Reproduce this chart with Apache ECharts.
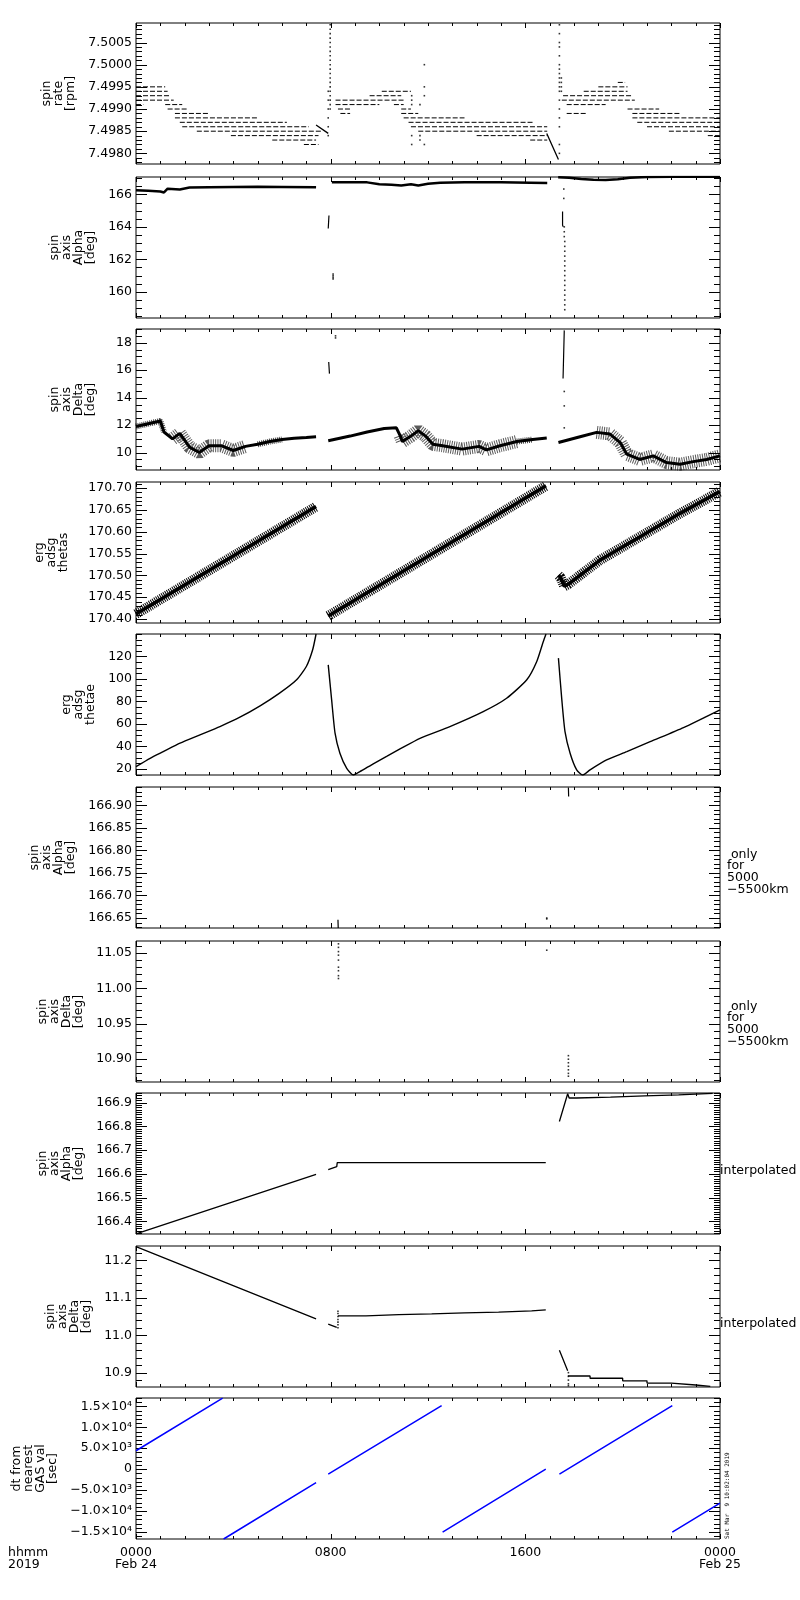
<!DOCTYPE html>
<html>
<head>
<meta charset="utf-8">
<title>spin axis summary 2019 Feb 24</title>
<script src="https://cdn.jsdelivr.net/npm/echarts@6/dist/echarts.min.js"></script>
<style>
html, body { margin: 0; padding: 0; background: #fff; }
#main { width: 800px; height: 1600px; }
</style>
</head>
<body>
<div id="main"></div>
<script>
// time axis: hours from 0000 Feb 24
var hourTicks = [0, 8, 16, 24];
var hourLabels = ['0000\nFeb 24', '0800', '1600', '0000\nFeb 25'];

// ---- panel 1 : spin rate [rpm]  (quantised levels: [value, from, to])
var rateTicks = [7.4980, 7.4985, 7.4990, 7.4995, 7.5000, 7.5005];
var rateLevels = [
  [7.4995, 0, 1.2], [7.4994, 0, 1.3], [7.4993, 0, 1.4], [7.4992, 0, 1.55],
  [7.4991, 0, 0.3], [7.4991, 1.2, 1.9], [7.4990, 1.3, 2.1], [7.4989, 1.6, 3.0],
  [7.4988, 1.6, 5.0], [7.4987, 1.8, 6.2], [7.4986, 1.9, 7.1], [7.4985, 2.5, 7.6],
  [7.4984, 3.9, 7.5], [7.4983, 5.6, 7.4], [7.4982, 6.9, 7.5],
  [7.4994, 10.1, 11.3], [7.4993, 9.6, 10.9], [7.4992, 8.2, 11.0],
  [7.4991, 8.2, 10.0], [7.4991, 10.6, 11.0], [7.4990, 8.3, 8.8], [7.4990, 10.9, 11.3],
  [7.4989, 8.4, 8.8], [7.4989, 10.9, 11.6], [7.4988, 11.0, 13.5], [7.4987, 11.2, 16.3],
  [7.4986, 11.3, 16.9], [7.4985, 11.6, 16.9], [7.4984, 14.0, 16.9], [7.4983, 16.2, 16.9],
  [7.4996, 19.8, 20.1], [7.4995, 19.0, 20.2], [7.4994, 18.4, 20.2], [7.4993, 17.55, 20.4],
  [7.4992, 17.5, 20.5], [7.4991, 17.7, 19.3], [7.4990, 20.2, 21.5], [7.4989, 17.7, 18.5],
  [7.4989, 20.4, 22.4], [7.4988, 20.4, 24], [7.4987, 20.6, 24], [7.4986, 21.0, 24],
  [7.4985, 21.9, 24], [7.4984, 23.5, 24]
];
var rateDrift = [
  [[7.4, 7.49864], [7.9, 7.49845]],
  [[16.88, 7.49845], [17.36, 7.49786]]
];
var rateDots = [
  [7.9, 7.4984], [7.9, 7.4986], [7.9, 7.4988], [7.9, 7.4990], [7.9, 7.4992], [7.9, 7.4994],
  [7.98, 7.5009], [7.98, 7.5008], [7.98, 7.5007], [7.98, 7.5006], [7.98, 7.5005], [7.98, 7.5004],
  [7.98, 7.5003], [7.98, 7.5002], [7.98, 7.5001], [7.98, 7.5000], [7.98, 7.4999], [7.98, 7.4998],
  [7.98, 7.4997], [7.98, 7.4996], [7.98, 7.4995], [7.98, 7.4994], [7.98, 7.4993], [7.98, 7.4992],
  [7.98, 7.4991], [7.98, 7.4990],
  [11.33, 7.4993], [11.33, 7.4992], [11.33, 7.4991], [11.33, 7.4984], [11.33, 7.4982],
  [11.67, 7.4991], [11.67, 7.4984], [11.67, 7.4983],
  [11.85, 7.5000], [11.85, 7.4995], [11.85, 7.4993], [11.85, 7.4982],
  [17.4, 7.5009], [17.4, 7.5007], [17.4, 7.5005], [17.4, 7.5004], [17.4, 7.5002], [17.4, 7.5000],
  [17.4, 7.4999], [17.4, 7.4998], [17.4, 7.4997], [17.4, 7.4996], [17.4, 7.4995], [17.4, 7.4994],
  [17.4, 7.4992], [17.4, 7.4990], [17.4, 7.4988], [17.4, 7.4986], [17.4, 7.4982], [17.4, 7.4980],
  [17.48, 7.4997], [17.48, 7.4996], [17.48, 7.4995], [17.48, 7.4994]
];

// ---- panel 2 : spin axis Alpha [deg]
var alphaTicks = [160, 162, 164, 166];
var alphaBand = [
  [[0, 166.25], [0.5, 166.22], [1.0, 166.18], [1.15, 166.12], [1.3, 166.35], [1.8, 166.3],
   [2.2, 166.42], [3, 166.44], [4, 166.46], [5, 166.47], [6, 166.46], [7.4, 166.44]],
  [[8.05, 166.75], [9.5, 166.74], [10.0, 166.62], [10.5, 166.6], [10.9, 166.55], [11.3, 166.62],
   [11.6, 166.55], [12.0, 166.66], [12.5, 166.72], [13.5, 166.74], [15, 166.75], [16.2, 166.72],
   [16.9, 166.70]],
  [[17.35, 167.05], [17.8, 167.02], [18.3, 166.95], [18.8, 166.9], [19.3, 166.88], [19.8, 166.93],
   [20.3, 167.02], [21, 167.07], [22, 167.08], [24, 167.08]]
];
var alphaSpikes = [
  [[7.93, 164.7], [7.9, 163.9]],
  [[17.53, 164.95], [17.53, 164.1], [17.56, 164.0]]
];
var alphaDots = [
  [8.1, 161.1], [8.1, 161.0], [8.1, 160.9], [8.1, 160.8],
  [17.58, 166.33], [17.58, 165.75], [17.6, 164.0], [17.6, 163.7], [17.6, 163.4], [17.62, 163.1],
  [17.62, 162.8], [17.62, 162.5], [17.62, 162.2], [17.62, 161.9], [17.62, 161.6], [17.62, 161.3],
  [17.62, 161.0], [17.62, 160.7], [17.62, 160.4], [17.62, 160.1], [17.62, 159.8], [17.62, 159.5],
  [17.62, 159.2], [17.62, 158.9]
];

// ---- panel 3 : spin axis Delta [deg]
var deltaTicks = [10, 12, 14, 16, 18];
var deltaBand = [
  [[0, 11.9], [0.5, 12.1], [1.0, 12.3], [1.15, 11.5], [1.5, 11.0], [1.8, 11.4], [2.2, 10.4],
   [2.6, 10.0], [3.0, 10.5], [3.5, 10.5], [4.0, 10.15], [4.5, 10.45], [5.0, 10.6], [5.5, 10.8],
   [6.0, 10.95], [6.5, 11.05], [7.0, 11.1], [7.4, 11.15]],
  [[7.9, 10.86], [8.8, 11.2], [9.5, 11.5], [10.2, 11.75], [10.7, 11.8], [10.85, 11.25],
   [10.95, 10.8], [11.3, 11.2], [11.6, 11.6], [11.9, 11.2], [12.2, 10.6], [12.6, 10.5],
   [13.4, 10.25], [14.1, 10.45], [14.4, 10.2], [14.96, 10.5], [15.65, 10.8], [16.3, 10.95],
   [16.88, 11.06]],
  [[17.36, 10.73], [18.25, 11.15], [18.93, 11.47], [19.48, 11.35], [19.9, 10.73], [20.17, 9.88],
   [20.7, 9.5], [21.26, 9.76], [21.8, 9.27], [22.36, 9.15], [22.9, 9.34], [23.45, 9.5], [24, 9.76]]
];
var deltaWideNoise = [[1.2, 4.6], [10.85, 15.7], [18.8, 24]];
var deltaNarrowNoise = [[0, 1.15], [4.6, 6.1], [15.6, 16.4], [17.9, 18.9]];
var deltaSpikes = [
  [[7.92, 16.6], [7.95, 15.75]],
  [[17.55, 15.4], [17.58, 17.5], [17.6, 18.9]]
];
var deltaDots = [[8.2, 18.5], [8.2, 18.35], [17.6, 14.45], [17.6, 13.4], [17.6, 11.8]];

// ---- panel 4 : erg adsg thetas
var thetasTicks = [170.40, 170.45, 170.50, 170.55, 170.60, 170.65, 170.70];
var thetasBand = [
  [[0, 170.4115], [7.4, 170.6575]],
  [[7.9, 170.407], [16.85, 170.705]],
  [[17.36, 170.50], [17.45, 170.495], [17.6, 170.475], [17.77, 170.48], [19.07, 170.535],
   [20.7, 170.588], [22.36, 170.642], [24, 170.692]]
];

// ---- panel 5 : erg adsg thetae
var thetaeTicks = [20, 40, 60, 80, 100, 120];
var thetaeArcs = [
  [[0, 22.1], [0.58, 29.5], [1.12, 35.4], [1.81, 42.9], [2.63, 50.3], [3.45, 57.7], [4.27, 66.0],
   [5.1, 76.1], [5.9, 87.4], [6.6, 99.3], [7.0, 111.1], [7.26, 126], [7.4, 140]],
  [[7.9, 112.6], [8.04, 81.4], [8.18, 51.8], [8.38, 34.0], [8.66, 20.6], [8.93, 14.7], [9.2, 17.6],
   [9.75, 24.6], [10.3, 31.2], [10.85, 37.8], [11.67, 47.3], [12.9, 57.7], [14.27, 71.0],
   [15.23, 82.9], [16.06, 99.3], [16.47, 115.6], [16.74, 133.4], [16.85, 140]],
  [[17.36, 118.6], [17.5, 81.4], [17.63, 53.2], [17.84, 34.0], [18.11, 19.2], [18.36, 14.7],
   [18.66, 19.2], [19.34, 28.0], [20.17, 35.4], [21.13, 44.3], [22.5, 56.8], [24, 72.6]]
];

// ---- panel 6 / 7 : spin axis only for 5000-5500km
var alphaFitTicks = [166.65, 166.70, 166.75, 166.80, 166.85, 166.90];
var alphaFitMarks = [[[8.3, 166.646], [8.31, 166.628]], [[17.77, 166.94], [17.78, 166.92]]];
var alphaFitDots = [[16.88, 166.65], [16.88, 166.648]];
var deltaFitTicks = [10.90, 10.95, 11.00, 11.05];
var deltaFitDots = [
  [8.32, 11.063], [8.32, 11.058], [8.32, 11.052], [8.32, 11.047], [8.32, 11.040], [8.32, 11.030],
  [8.32, 11.025], [8.32, 11.018], [8.32, 11.014], [16.88, 11.054],
  [17.77, 10.905], [17.77, 10.900], [17.77, 10.895], [17.77, 10.890], [17.77, 10.885],
  [17.77, 10.880], [17.77, 10.876]
];

// ---- panel 8 / 9 : spin axis interpolated
var alphaIntTicks = [166.4, 166.5, 166.6, 166.7, 166.8, 166.9];
var alphaIntLines = [
  [[0, 166.347], [7.4, 166.598]],
  [[7.9, 166.618], [8.25, 166.63], [8.27, 166.647], [16.84, 166.647]],
  [[17.4, 166.82], [17.74, 166.937], [17.8, 166.919], [18.1, 166.919], [18.1, 166.923],
   [19.5, 166.923], [19.5, 166.928], [20.9, 166.928], [20.9, 166.932], [22.3, 166.932],
   [22.3, 166.938], [23.7, 166.938]]
];
var deltaIntTicks = [10.9, 11.0, 11.1, 11.2];
var deltaIntLines = [
  [[0, 11.237], [7.4, 11.044]],
  [[7.9, 11.03], [8.25, 11.021]],
  [[8.3, 11.052], [9.45, 11.052], [9.45, 11.055], [10.8, 11.055], [10.8, 11.057], [12.15, 11.057],
   [12.15, 11.06], [13.5, 11.06], [13.5, 11.062], [14.9, 11.062], [14.9, 11.065], [16.26, 11.065],
   [16.26, 11.068], [16.84, 11.068]],
  [[17.4, 10.96], [17.74, 10.905]],
  [[17.75, 10.891], [18.66, 10.891], [18.66, 10.885], [20.0, 10.885], [20.0, 10.878], [21.0, 10.878],
   [21.0, 10.872], [22.0, 10.872], [22.0, 10.867], [23.0, 10.867], [23.0, 10.863], [23.6, 10.863]]
];
var deltaIntDots = [
  [8.3, 11.064], [8.3, 11.058], [8.3, 11.05], [8.3, 11.042], [8.3, 11.035], [8.3, 11.028], [8.3, 11.02],
  [17.77, 10.9], [17.77, 10.89], [17.77, 10.88], [17.77, 10.87], [17.77, 10.865]
];

// ---- panel 10 : dt from nearest GAS val [sec]
var dtTicks = [-15000, -10000, -5000, 0, 5000, 10000, 15000];
var dtTickLabels = ['\u22121.5\u00d710\u2074', '\u22121.0\u00d710\u2074', '\u22125.0\u00d710\u00b3', '0',
                    '5.0\u00d710\u00b3', '1.0\u00d710\u2074', '1.5\u00d710\u2074'];
var dtLines = [
  [[0, 4400], [3.56, 17000]],
  [[3.6, -16700], [7.4, -3200]],
  [[7.9, -1200], [12.56, 15200]],
  [[12.6, -15070], [16.84, 0]],
  [[17.4, -1200], [22.04, 15200]],
  [[22.04, -15070], [24, -8130]]
];

var FONT = 'DejaVu Sans';

function broken(polys) {
  var out = [];
  polys.forEach(function (p, i) {
    if (i) out.push(['-', '-']);
    out = out.concat(p);
  });
  return out;
}
function levelsToPolys(levels) {
  return levels.map(function (l) { return [[l[1], l[0]], [l[2], l[0]]]; });
}
function clipPolys(polys, ranges) {
  var out = [];
  ranges.forEach(function (r) {
    polys.forEach(function (p) {
      var part = p.filter(function (pt) { return pt[0] >= r[0] && pt[0] <= r[1]; });
      if (part.length > 1) out.push(part);
    });
  });
  return out;
}
// tick marks for one panel: [kind (0 = y, 1 = x), value, major]
function tickItems(p) {
  var items = [], k, v;
  for (k = Math.ceil(p.min / p.step - 1e-6); k * p.step <= p.max + 1e-9; k++) {
    v = +(k * p.step).toFixed(8);
    var major = p.ticks.some(function (t) { return Math.abs(t - v) < p.step / 10; }) ? 1 : 0;
    items.push([0, v, major]);
  }
  for (k = 0; k <= 24; k++) items.push([1, k, hourTicks.indexOf(k) >= 0 ? 1 : 0]);
  return items;
}

var panelTops = [23, 177, 329, 482, 634, 787, 941, 1093, 1246, 1398];
var panels = [
  {name: 'spin\nrate\n[rpm]', min: 7.49776, max: 7.50094, ticks: rateTicks, step: 0.0001, digits: 4, gap: 58},
  {name: 'spin\naxis\nAlpha\n[deg]', min: 158.39, max: 167.07, ticks: alphaTicks, step: 0.5, digits: 0, gap: 38},
  {name: 'spin\naxis\nDelta\n[deg]', min: 8.73, max: 19.0, ticks: deltaTicks, step: 0.5, digits: 0, gap: 39},
  {name: 'erg\nadsg\nthetas', min: 170.3908, max: 170.7138, ticks: thetasTicks, step: 0.01, digits: 2, gap: 66},
  {name: 'erg\nadsg\nthetae', min: 14.66, max: 140, ticks: thetaeTicks, step: 5, digits: 0, gap: 39},
  {name: 'spin\naxis\nAlpha\n[deg]', min: 166.6278, max: 166.9409, ticks: alphaFitTicks, step: 0.01, digits: 2, gap: 58},
  {name: 'spin\naxis\nDelta\n[deg]', min: 10.8678, max: 11.067, ticks: deltaFitTicks, step: 0.01, digits: 2, gap: 51},
  {name: 'spin\naxis\nAlpha\n[deg]', min: 166.3466, max: 166.94, ticks: alphaIntTicks, step: 0.01, digits: 1, gap: 51},
  {name: 'spin\naxis\nDelta\n[deg]', min: 10.8616, max: 11.2387, ticks: deltaIntTicks, step: 0.02, digits: 1, gap: 41},
  {name: 'dt from\nnearest\nGAS val\n[sec]', min: -16700, max: 17010, ticks: dtTicks, step: 1000, digits: -1, gap: 74}
];

var grids = [], xAxes = [], yAxes = [], series = [];

panels.forEach(function (p, i) {
  var last = i === panels.length - 1;
  grids.push({left: 136, width: 584, top: panelTops[i], height: 141, show: true,
              borderColor: '#000', borderWidth: 1, backgroundColor: 'transparent',
              containLabel: false, outerBoundsMode: 'none'});
  xAxes.push({
    type: 'value', gridIndex: i, min: 0, max: 24, interval: 8, position: 'bottom',
    axisLine: {show: false}, axisTick: {show: false},
    splitLine: {show: false},
    axisLabel: {
      show: last, margin: 8, showMinLabel: true, showMaxLabel: true,
      fontFamily: FONT, fontSize: 12.5, lineHeight: 12, color: '#000',
      formatter: function (v) { var k = hourTicks.indexOf(v); return k < 0 ? '' : hourLabels[k]; }
    }
  });
  yAxes.push({
    type: 'value', gridIndex: i, min: p.min, max: p.max, position: 'left', scale: true,
    axisLine: {show: false}, axisTick: {show: false}, splitLine: {show: false},
    axisLabel: {
      customValues: p.ticks, margin: 4,
      fontFamily: FONT, fontSize: 12.5, color: '#000',
      formatter: function (v) {
        if (p.digits < 0) {
          var k = p.ticks.indexOf(v);
          return k < 0 ? '' : dtTickLabels[k];
        }
        return v.toFixed(p.digits);
      }
    },
    name: p.name, nameLocation: 'middle', nameRotate: 90, nameGap: p.gap,
    nameTextStyle: {fontFamily: FONT, fontSize: 12.5, lineHeight: 12, color: '#000', align: 'center'}
  });
  // tick marks drawn on all four edges of the frame
  series.push({
    type: 'custom', xAxisIndex: i, yAxisIndex: i, silent: true, data: tickItems(p),
    encode: {x: 1, y: 1},
    renderItem: (function (pm) {
      return function (params, api) {
        var cs = params.coordSys, kind = api.value(0), v = api.value(1), major = api.value(2);
        var st = {stroke: '#000', lineWidth: 1};
        if (kind === 0) {
          var y = Math.round(api.coord([0, v])[1]) + 0.5, ly = major ? 11 : 6;
          return {type: 'group', children: [
            {type: 'line', shape: {x1: cs.x, y1: y, x2: cs.x + ly, y2: y}, style: st},
            {type: 'line', shape: {x1: cs.x + cs.width - ly, y1: y, x2: cs.x + cs.width, y2: y}, style: st}
          ]};
        }
        var x = Math.round(api.coord([v, pm.min])[0]) + 0.5, lx = major ? 5 : 3;
        return {type: 'group', children: [
          {type: 'line', shape: {x1: x, y1: cs.y, x2: x, y2: cs.y + lx}, style: st},
          {type: 'line', shape: {x1: x, y1: cs.y + cs.height - lx, x2: x, y2: cs.y + cs.height}, style: st}
        ]};
      };
    })(p)
  });
});

function line(i, data, style, extra) {
  var s = {
    type: 'line', xAxisIndex: i, yAxisIndex: i, data: data,
    showSymbol: false, symbol: 'none', connectNulls: false, silent: true, clip: true,
    lineStyle: style
  };
  for (var k in extra) s[k] = extra[k];
  series.push(s);
}
function dots(i, data, size) {
  series.push({
    type: 'scatter', xAxisIndex: i, yAxisIndex: i, data: data, silent: true,
    symbol: 'rect', symbolSize: size || 1.6, itemStyle: {color: '#000'}
  });
}

// panel 1
line(0, broken(levelsToPolys(rateLevels)), {color: '#000', width: 1, type: [5, 2]});
line(0, broken(rateDrift), {color: '#000', width: 1.3});
dots(0, rateDots);
// panel 2
line(1, broken(alphaBand), {color: '#000', width: 2.5});
line(1, broken(alphaSpikes), {color: '#000', width: 1.2});
dots(1, alphaDots);
// panel 3 (scatter cloud shown as a speckled band round the trend)
line(2, broken(clipPolys(deltaBand, deltaWideNoise)), {color: '#000', width: 13, type: [1, 1.3], opacity: 0.65});
line(2, broken(clipPolys(deltaBand, deltaNarrowNoise)), {color: '#000', width: 6, type: [1, 1], opacity: 0.7});
line(2, broken(deltaBand), {color: '#000', width: 3});
line(2, broken(deltaSpikes), {color: '#000', width: 1.2});
dots(2, deltaDots);
// panel 4
line(3, broken(thetasBand), {color: '#000', width: 10, type: [1, 1.1]});
line(3, broken(thetasBand), {color: '#000', width: 3.5});
// panel 5
line(4, broken(thetaeArcs), {color: '#000', width: 1.4}, {smooth: 0.2});
// panel 6, 7
line(5, broken(alphaFitMarks), {color: '#000', width: 1.2});
dots(5, alphaFitDots);
dots(6, deltaFitDots);
// panel 8, 9
line(7, broken(alphaIntLines), {color: '#000', width: 1.3});
line(8, broken(deltaIntLines), {color: '#000', width: 1.3});
dots(8, deltaIntDots);
// panel 10
line(9, broken(dtLines), {color: '#0000ff', width: 1.5});

var textStyle = {fontFamily: FONT, fontSize: 12.5, lineHeight: 11.7, fill: '#000'};
function txt(left, top, text, extra) {
  var st = {text: text};
  for (var k in textStyle) st[k] = textStyle[k];
  for (var k2 in extra) st[k2] = extra[k2];
  return {type: 'text', left: left, top: top, silent: true, style: st};
}

var option = {
  animation: false,
  backgroundColor: '#fff',
  grid: grids,
  xAxis: xAxes,
  yAxis: yAxes,
  series: series,
  graphic: [
    txt(727, 848, ' only\nfor\n5000\n\u22125500km'),
    txt(727, 1000, ' only\nfor\n5000\n\u22125500km'),
    txt(720, 1164, 'interpolated'),
    txt(720, 1317, 'interpolated'),
    txt(8, 1546, 'hhmm\n2019', {lineHeight: 12}),
    {
      type: 'text', x: 727, y: 1539, rotation: Math.PI / 2, silent: true,
      style: {text: 'Sat Mar  9 10:02:04 2019', fontFamily: 'DejaVu Sans Mono', fontSize: 6,
              fill: '#000', align: 'left', verticalAlign: 'middle',
              textAlign: 'left', textVerticalAlign: 'middle'}
    }
  ]
};

var chart = echarts.init(document.getElementById('main'), null, {renderer: 'canvas'});
chart.setOption(option);
</script>
</body>
</html>
